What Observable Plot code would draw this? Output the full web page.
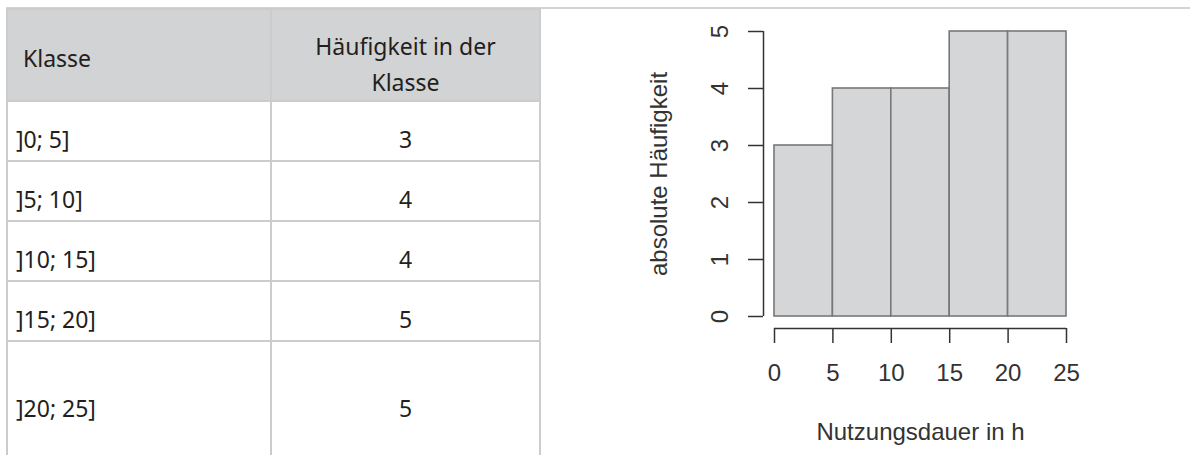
<!DOCTYPE html>
<html>
<head>
<meta charset="utf-8">
<script src="https://cdn.jsdelivr.net/npm/d3@7"></script>
<script src="https://cdn.jsdelivr.net/npm/@observablehq/plot@0.6"></script>
<style>
  html, body { margin: 0; padding: 0; background: #fff; width: 1190px; height: 455px; overflow: hidden; }
  #page { position: relative; width: 1190px; height: 455px; overflow: hidden; }
  #topline { position: absolute; left: 6px; top: 7px; width: 1184px; height: 2px; background: #d3d3d3; }
  table { position: absolute; left: 6px; top: 8px; border-collapse: collapse; table-layout: fixed; width: 533px;
          font-family: "Noto Sans", "Open Sans", sans-serif; font-size: 23px; color: #231f20; line-height: 36px; }
  td, th { border: 2px solid #cccccc; vertical-align: top; font-weight: normal; padding: 0; box-sizing: border-box; }
  th { background: #d2d3d5; height: 89px; }
  th.c1 { text-align: left; padding-left: 15px; padding-top: 30px; }
  th.c2 { text-align: center; padding-top: 18px; }
  td.c1 { text-align: left; padding-left: 8px; }
  td.c2 { text-align: center; }
  tr.r td { height: 60px; padding-top: 19px; }
  tr.last td { height: 134px; padding-top: 48px; }
  #chart { position: absolute; left: 600px; top: 0px; }
</style>
</head>
<body>
<div id="page">
  <div id="topline"></div>
  <table id="tbl"></table>
  <div id="chart"></div>
</div>
<script>
// ---- data ----
const headerLabels = ["Klasse", "Häufigkeit in der|Klasse"];
const classLabels = ["]0; 5]", "]5; 10]", "]10; 15]", "]15; 20]", "]20; 25]"];
const lowerBounds = [0, 5, 10, 15, 20];
const upperBounds = [5, 10, 15, 20, 25];
const counts = [3, 4, 4, 5, 5];
const xTicks = [0, 5, 10, 15, 20, 25];
const yTicks = [0, 1, 2, 3, 4, 5];
const xTitle = "Nutzungsdauer in h";
const yTitle = "absolute Häufigkeit";

// ---- table ----
const tbl = document.getElementById("tbl");
const colgroup = document.createElement("colgroup");
[264, 269].forEach(w => { const c = document.createElement("col"); c.style.width = w + "px"; colgroup.appendChild(c); });
tbl.appendChild(colgroup);
const thead = document.createElement("tr");
headerLabels.forEach((h, i) => {
  const th = document.createElement("th");
  th.className = "c" + (i + 1);
  h.split("|").forEach((part, j) => {
    if (j > 0) th.appendChild(document.createElement("br"));
    th.appendChild(document.createTextNode(part));
  });
  thead.appendChild(th);
});
tbl.appendChild(thead);
classLabels.forEach((lab, i) => {
  const tr = document.createElement("tr");
  tr.className = i === classLabels.length - 1 ? "last" : "r";
  const a = document.createElement("td"); a.className = "c1"; a.textContent = lab;
  const b = document.createElement("td"); b.className = "c2"; b.textContent = String(counts[i]);
  tr.appendChild(a); tr.appendChild(b);
  tbl.appendChild(tr);
});

// ---- histogram ----
const bins = counts.map((c, i) => ({lo: lowerBounds[i], hi: upperBounds[i], count: c}));
const axisColor = "#333";
const fs = 24;

const chart = Plot.plot({
  width: 590,
  height: 455,
  marginLeft: 174,
  marginRight: 124,
  marginTop: 31,
  marginBottom: 139,
  style: {fontFamily: "Liberation Sans, Arial, Helvetica, sans-serif", fontSize: fs + "px", color: axisColor, background: "transparent"},
  x: {domain: [xTicks[0], xTicks[xTicks.length - 1]], axis: null},
  y: {domain: [yTicks[0], yTicks[yTicks.length - 1]], axis: null},
  marks: [
    Plot.rectY(bins, {x1: "lo", x2: "hi", y: "count", fill: "#d5d6d8", stroke: "#787878", strokeWidth: 1.6}),
    // y axis line + ticks
    Plot.ruleX([xTicks[0]], {y1: yTicks[0], y2: yTicks[yTicks.length - 1], dx: -11, stroke: axisColor, strokeWidth: 1.5}),
    Plot.axisY({ticks: yTicks, anchor: "left", tickSize: 15, dx: -11, stroke: axisColor, strokeWidth: 1.5, fill: "none", label: null}),
    Plot.text(yTicks, {y: d => d, text: d => String(d), frameAnchor: "left", rotate: -90, textAnchor: "middle", lineAnchor: "middle", dx: -54, fontSize: fs, fill: axisColor}),
    // x axis line + ticks
    Plot.ruleY([yTicks[0]], {x1: xTicks[0], x2: xTicks[xTicks.length - 1], dy: 12, stroke: axisColor, strokeWidth: 1.5}),
    Plot.axisX({ticks: xTicks, anchor: "bottom", tickSize: 15, dy: 12, stroke: axisColor, strokeWidth: 1.5, fill: "none", label: null}),
    Plot.text(xTicks, {x: d => d, text: d => String(d), frameAnchor: "bottom", lineAnchor: "middle", dy: 57, fontSize: fs, fill: axisColor}),
    // titles
    Plot.text([xTitle], {frameAnchor: "bottom", lineAnchor: "middle", dy: 116, fontSize: fs, fill: axisColor}),
    Plot.text([yTitle], {frameAnchor: "left", rotate: -90, textAnchor: "middle", lineAnchor: "middle", dx: -115, fontSize: fs, fill: axisColor})
  ]
});
document.getElementById("chart").appendChild(chart);
</script>
</body>
</html>
